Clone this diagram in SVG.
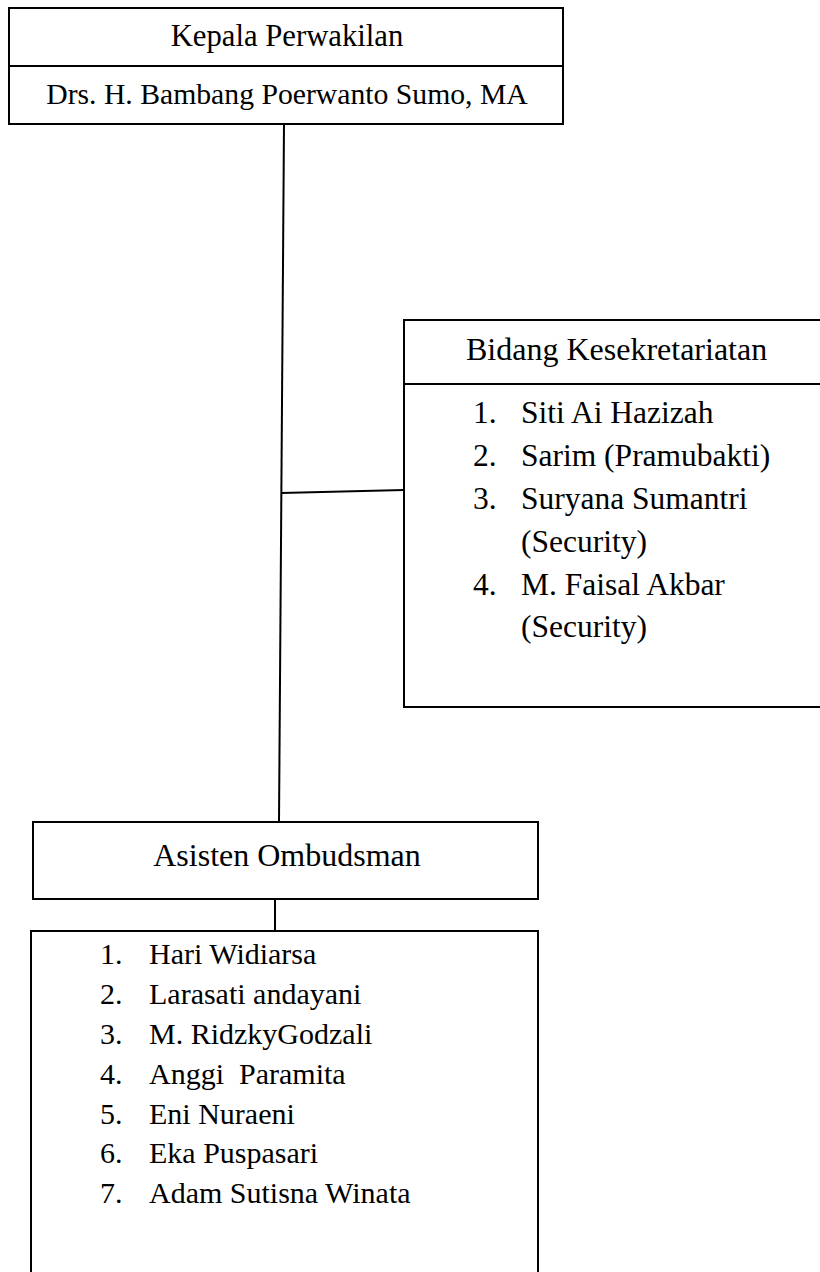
<svg xmlns="http://www.w3.org/2000/svg" width="820" height="1272" viewBox="0 0 820 1272">
<style>
.box{fill:#fff;stroke:#000;stroke-width:2}
.ln{stroke:#000;stroke-width:2;fill:none}
text{font-family:"Liberation Serif","Times New Roman",serif;font-size:30px;fill:#000}
.c{text-anchor:middle}
.h{font-size:32px}
.b{font-size:31.5px}
</style>
<rect width="820" height="1272" fill="#fff"/>
<g id="connectors">
<line class="ln" x1="284" y1="124" x2="279" y2="822"/>
<line class="ln" x1="281" y1="493" x2="404" y2="490"/>
<line class="ln" x1="275" y1="899" x2="275" y2="931"/>
</g>
<g id="kepala">
<rect class="box" x="9" y="8" width="554" height="116"/>
<line class="ln" x1="9" y1="66" x2="563" y2="66"/>
<text class="c" x="287" y="46" style="font-size:30.7px">Kepala Perwakilan</text>
<text class="c" x="287" y="104" style="font-size:29.7px">Drs. H. Bambang Poerwanto Sumo, MA</text>
</g>
<g id="bidang">
<rect class="box" x="404" y="320" width="430" height="387"/>
<line class="ln" x1="404" y1="384" x2="820" y2="384"/>
<text class="h" x="466" y="360">Bidang Kesekretariatan</text>
<text class="b" x="473" y="423">1.</text><text class="b" x="521" y="423">Siti Ai Hazizah</text>
<text class="b" x="473" y="466">2.</text><text class="b" x="521" y="466">Sarim (Pramubakti)</text>
<text class="b" x="473" y="509">3.</text><text class="b" x="521" y="509">Suryana Sumantri</text>
<text class="b" x="521" y="552">(Security)</text>
<text class="b" x="473" y="595">4.</text><text class="b" x="521" y="595">M. Faisal Akbar</text>
<text class="b" x="521" y="637">(Security)</text>
</g>
<g id="asisten">
<rect class="box" x="33" y="822" width="505" height="77"/>
<text class="c h" x="287" y="866">Asisten Ombudsman</text>
</g>
<g id="anggota">
<rect class="box" x="31" y="931" width="507" height="360"/>
<text x="100" y="964">1.</text><text x="149" y="964">Hari Widiarsa</text>
<text x="100" y="1004">2.</text><text x="149" y="1004">Larasati andayani</text>
<text x="100" y="1044">3.</text><text x="149" y="1044">M. RidzkyGodzali</text>
<text x="100" y="1084">4.</text><text x="149" y="1084" xml:space="preserve">Anggi  Paramita</text>
<text x="100" y="1124">5.</text><text x="149" y="1124">Eni Nuraeni</text>
<text x="100" y="1163">6.</text><text x="149" y="1163">Eka Puspasari</text>
<text x="100" y="1203">7.</text><text x="149" y="1203">Adam Sutisna Winata</text>
</g>
</svg>
